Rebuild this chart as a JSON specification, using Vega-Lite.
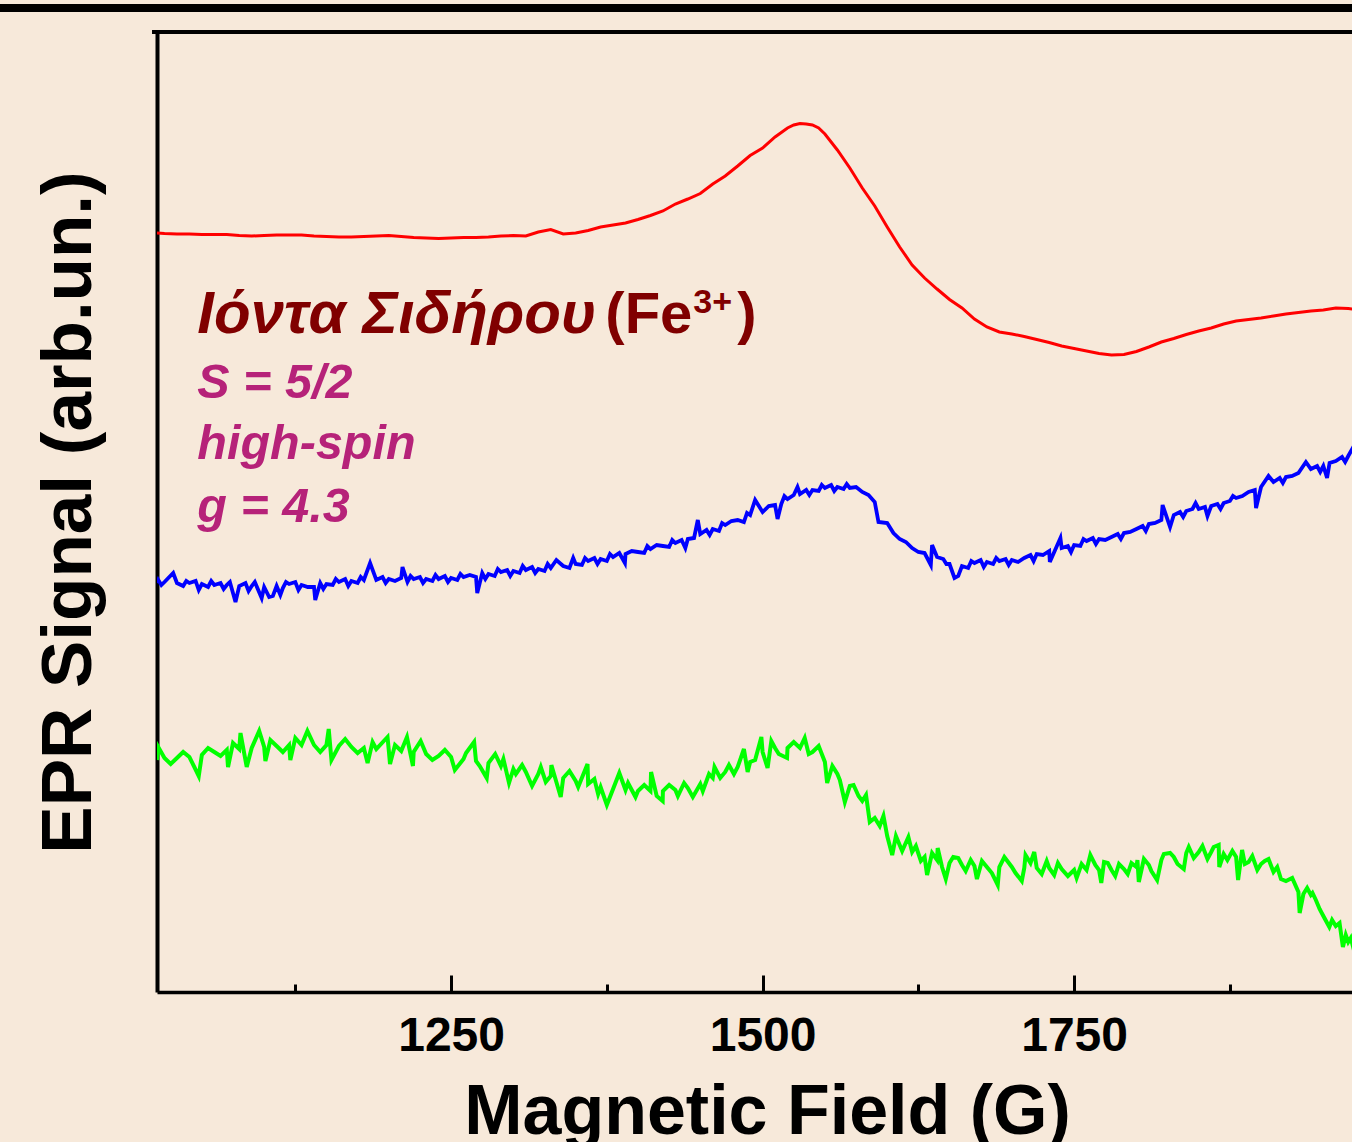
{
  "$schema": "https://vega.github.io/schema/vega-lite/v6.json",
  "width": 1195,
  "height": 960,
  "autosize": {"type": "none"},
  "padding": {"left": 157, "top": 32, "right": 0, "bottom": 150},
  "background": "#F7E9DA",
  "config": {"view": {"stroke": null}},
  "datasets": {
    "red": [
      {"B":1014,"v":759},{"B":1020,"v":758.5},{"B":1030,"v":758},{"B":1040,"v":758},{"B":1050,"v":757.5},{"B":1060,"v":757.5},{"B":1070,"v":757.5},{"B":1080,"v":756.5},{"B":1090,"v":756},{"B":1100,"v":756.5},{"B":1110,"v":757},{"B":1120,"v":757},{"B":1130,"v":757},{"B":1140,"v":756},{"B":1150,"v":755.5},{"B":1160,"v":755},{"B":1170,"v":755},{"B":1180,"v":755.5},{"B":1190,"v":756},{"B":1200,"v":756.5},{"B":1210,"v":755.5},{"B":1220,"v":754.5},{"B":1230,"v":754},{"B":1240,"v":753.5},{"B":1250,"v":754},{"B":1260,"v":754.5},{"B":1270,"v":754.5},{"B":1280,"v":755},{"B":1290,"v":756},{"B":1300,"v":756.5},{"B":1310,"v":756},{"B":1320,"v":760},{"B":1330,"v":762.5},{"B":1340,"v":758},{"B":1350,"v":759},{"B":1360,"v":761.5},{"B":1370,"v":765},{"B":1380,"v":767},{"B":1390,"v":769},{"B":1400,"v":772.5},{"B":1410,"v":776.5},{"B":1420,"v":781},{"B":1430,"v":788},{"B":1440,"v":793},{"B":1450,"v":798.5},{"B":1460,"v":808},{"B":1470,"v":816},{"B":1480,"v":826},{"B":1490,"v":836.5},{"B":1500,"v":844},{"B":1510,"v":855},{"B":1520,"v":864},{"B":1525,"v":867},{"B":1530,"v":868.5},{"B":1535,"v":868},{"B":1540,"v":867},{"B":1545,"v":864},{"B":1550,"v":858},{"B":1560,"v":842},{"B":1570,"v":824},{"B":1580,"v":804},{"B":1590,"v":786},{"B":1600,"v":765},{"B":1610,"v":745},{"B":1620,"v":727},{"B":1630,"v":714},{"B":1640,"v":703},{"B":1650,"v":692.5},{"B":1660,"v":684},{"B":1670,"v":673},{"B":1680,"v":665},{"B":1690,"v":660},{"B":1700,"v":658},{"B":1710,"v":655.5},{"B":1720,"v":652.5},{"B":1730,"v":649.5},{"B":1740,"v":646},{"B":1750,"v":643.5},{"B":1760,"v":641},{"B":1770,"v":638.5},{"B":1780,"v":637},{"B":1790,"v":637.5},{"B":1800,"v":640.5},{"B":1810,"v":645},{"B":1820,"v":650},{"B":1830,"v":653.5},{"B":1840,"v":657.5},{"B":1850,"v":661},{"B":1860,"v":664},{"B":1870,"v":668},{"B":1880,"v":671},{"B":1890,"v":672.5},{"B":1900,"v":674},{"B":1910,"v":676},{"B":1920,"v":678},{"B":1930,"v":679.5},{"B":1940,"v":681},{"B":1950,"v":682},{"B":1960,"v":684},{"B":1970,"v":683.5},{"B":1980,"v":682}
    ],
    "blue": [
      {"B":1014,"v":409},{"B":1020,"v":410},{"B":1030,"v":409},{"B":1040,"v":409},{"B":1050,"v":408},{"B":1060,"v":407},{"B":1070,"v":407},{"B":1080,"v":406},{"B":1090,"v":406},{"B":1100,"v":405},{"B":1110,"v":406},{"B":1120,"v":408},{"B":1130,"v":407},{"B":1140,"v":405},{"B":1150,"v":408},{"B":1160,"v":410},{"B":1170,"v":411},{"B":1180,"v":412},{"B":1190,"v":412},{"B":1200,"v":413},{"B":1210,"v":414},{"B":1220,"v":413},{"B":1230,"v":413},{"B":1240,"v":413},{"B":1250,"v":414},{"B":1260,"v":415},{"B":1270,"v":415},{"B":1280,"v":418},{"B":1290,"v":420},{"B":1300,"v":421},{"B":1310,"v":422},{"B":1320,"v":423},{"B":1330,"v":424},{"B":1340,"v":426},{"B":1350,"v":428},{"B":1360,"v":431},{"B":1370,"v":433},{"B":1380,"v":435},{"B":1390,"v":438},{"B":1400,"v":440},{"B":1410,"v":443},{"B":1420,"v":446},{"B":1430,"v":449},{"B":1440,"v":453},{"B":1450,"v":458},{"B":1460,"v":463},{"B":1470,"v":467},{"B":1480,"v":472},{"B":1490,"v":477},{"B":1500,"v":480},{"B":1510,"v":487},{"B":1520,"v":493},{"B":1530,"v":498},{"B":1540,"v":502},{"B":1550,"v":504},{"B":1560,"v":505},{"B":1570,"v":504},{"B":1580,"v":500},{"B":1590,"v":490},{"B":1600,"v":469},{"B":1610,"v":453},{"B":1620,"v":444},{"B":1630,"v":439},{"B":1640,"v":435},{"B":1650,"v":428},{"B":1660,"v":426},{"B":1670,"v":429},{"B":1680,"v":430},{"B":1690,"v":431},{"B":1700,"v":432},{"B":1710,"v":434},{"B":1720,"v":438},{"B":1730,"v":441},{"B":1740,"v":444},{"B":1750,"v":447},{"B":1760,"v":451},{"B":1770,"v":453},{"B":1780,"v":455},{"B":1790,"v":459},{"B":1800,"v":463},{"B":1810,"v":468},{"B":1820,"v":472},{"B":1830,"v":477},{"B":1840,"v":481},{"B":1850,"v":483},{"B":1860,"v":486},{"B":1870,"v":489},{"B":1880,"v":494},{"B":1890,"v":500},{"B":1900,"v":505},{"B":1910,"v":510},{"B":1920,"v":515},{"B":1930,"v":519},{"B":1940,"v":523},{"B":1950,"v":526},{"B":1960,"v":531},{"B":1970,"v":536},{"B":1975,"v":547},
      {"B":1027,"v":419},{"B":1077,"v":390},{"B":1098,"v":394},{"B":1104,"v":395},{"B":1107,"v":396},{"B":1113,"v":397},{"B":1141,"v":392},{"B":1185,"v":429},{"B":1211,"v":425},{"B":1271,"v":399},{"B":1438,"v":444},{"B":1448,"v":472},{"B":1494,"v":492},{"B":1512,"v":473},{"B":1528,"v":505},{"B":1593,"v":470},{"B":1635,"v":427},{"B":1636,"v":447},{"B":1654,"v":414},{"B":1657,"v":416},{"B":1730.5,"v":430},{"B":1739,"v":454},{"B":1821,"v":487},{"B":1827,"v":465},{"B":1857,"v":476},{"B":1896,"v":484},{"B":1906,"v":516},{"B":1936,"v":530},{"B":1953,"v":514},
      {"B":1015,"v":412},{"B":1017.5,"v":407},{"B":1035,"v":406},{"B":1037.5,"v":411},{"B":1045,"v":411},{"B":1047.5,"v":402},{"B":1055,"v":405},{"B":1057.5,"v":411},{"B":1065,"v":409},{"B":1067.5,"v":403},{"B":1072.5,"v":410},{"B":1085,"v":409},{"B":1087.5,"v":401},{"B":1092.5,"v":410},{"B":1115,"v":404},{"B":1117.5,"v":410},{"B":1125,"v":410},{"B":1127.5,"v":402},{"B":1135,"v":405},{"B":1145,"v":409},{"B":1147.5,"v":403},{"B":1155,"v":407},{"B":1157.5,"v":413},{"B":1165,"v":413},{"B":1167.5,"v":406},{"B":1175,"v":409},{"B":1177.5,"v":415},{"B":1195,"v":415},{"B":1197.5,"v":409},{"B":1205,"v":411},{"B":1215,"v":410},{"B":1217.5,"v":416},{"B":1225,"v":415},{"B":1227.5,"v":409},{"B":1235,"v":411},{"B":1237.5,"v":417},{"B":1245,"v":416},{"B":1247.5,"v":410},{"B":1255,"v":412},{"B":1257.5,"v":418},{"B":1265,"v":417},{"B":1275,"v":419},{"B":1277.5,"v":413},{"B":1285,"v":416},{"B":1287.5,"v":423},{"B":1295,"v":422},{"B":1297.5,"v":416},{"B":1305,"v":419},{"B":1307.5,"v":426},{"B":1315,"v":425},{"B":1317.5,"v":419},{"B":1325,"v":421},{"B":1327.5,"v":428},{"B":1334.5,"v":432},{"B":1345,"v":424},{"B":1348,"v":434},{"B":1355,"v":427},{"B":1357.5,"v":434},{"B":1365,"v":434},{"B":1367.5,"v":428},{"B":1375,"v":431},{"B":1377.5,"v":438},{"B":1385,"v":439},{"B":1389.5,"v":429},{"B":1395,"v":441},{"B":1405,"v":439},{"B":1407.5,"v":446},{"B":1415,"v":447},{"B":1425,"v":445},{"B":1427.5,"v":452},{"B":1435,"v":452},{"B":1445,"v":454},{"B":1455,"v":462},{"B":1457.5,"v":457},{"B":1465,"v":461},{"B":1467.5,"v":469},{"B":1475,"v":471},{"B":1485,"v":470},{"B":1487.5,"v":479},{"B":1505,"v":486},{"B":1515,"v":488},{"B":1517.5,"v":496},{"B":1525,"v":497},{"B":1535,"v":502},{"B":1537.5,"v":497},{"B":1545,"v":501},{"B":1547.5,"v":507},{"B":1555,"v":507},{"B":1557.5,"v":501},{"B":1565,"v":503},{"B":1567.5,"v":508},{"B":1575,"v":505},{"B":1585,"v":497},{"B":1605,"v":459},{"B":1615,"v":450},{"B":1625,"v":440},{"B":1645,"v":433},{"B":1647.5,"v":428},{"B":1665,"v":424},{"B":1667.5,"v":431},{"B":1675,"v":432},{"B":1677.5,"v":425},{"B":1685,"v":428},{"B":1687.5,"v":434},{"B":1695,"v":433},{"B":1697.5,"v":427},{"B":1705,"v":430},{"B":1715,"v":437},{"B":1717.5,"v":431},{"B":1725,"v":437},{"B":1745,"v":446},{"B":1747.5,"v":440},{"B":1755,"v":446},{"B":1757.5,"v":453},{"B":1765,"v":454},{"B":1767.5,"v":448},{"B":1775,"v":452},{"B":1785,"v":458},{"B":1787.5,"v":453},{"B":1795,"v":460},{"B":1805,"v":466},{"B":1807.5,"v":461},{"B":1815,"v":469},{"B":1835,"v":480},{"B":1837.5,"v":475},{"B":1845,"v":483},{"B":1847.5,"v":489},{"B":1855,"v":485},{"B":1865,"v":488},{"B":1867.5,"v":483},{"B":1875,"v":491},{"B":1877.5,"v":496},{"B":1885,"v":496},{"B":1895,"v":502},{"B":1915,"v":514},{"B":1917.5,"v":509},{"B":1925,"v":516},{"B":1945,"v":526},{"B":1947.5,"v":520},{"B":1955,"v":529},{"B":1965,"v":535},{"B":1967.5,"v":530}
    ],
    "green": [
      {"B":1014,"v":232},{"B":1020,"v":234},{"B":1030,"v":234},{"B":1040,"v":235},{"B":1050,"v":237},{"B":1060,"v":240},{"B":1070,"v":242},{"B":1080,"v":243},{"B":1090,"v":244},{"B":1100,"v":245},{"B":1110,"v":246},{"B":1120,"v":247},{"B":1130,"v":247},{"B":1140,"v":247},{"B":1150,"v":247},{"B":1160,"v":246},{"B":1170,"v":245},{"B":1180,"v":244},{"B":1190,"v":243},{"B":1200,"v":242},{"B":1210,"v":241},{"B":1220,"v":240},{"B":1230,"v":238},{"B":1240,"v":236},{"B":1250,"v":235},{"B":1260,"v":233},{"B":1270,"v":231},{"B":1280,"v":229},{"B":1290,"v":226},{"B":1300,"v":223},{"B":1310,"v":220},{"B":1320,"v":218},{"B":1330,"v":216},{"B":1340,"v":214},{"B":1350,"v":211},{"B":1360,"v":208},{"B":1370,"v":205},{"B":1380,"v":203},{"B":1390,"v":202},{"B":1400,"v":201},{"B":1410,"v":201},{"B":1420,"v":201},{"B":1430,"v":202},{"B":1440,"v":204},{"B":1450,"v":208},{"B":1460,"v":214},{"B":1470,"v":220},{"B":1480,"v":225},{"B":1490,"v":230},{"B":1500,"v":240},{"B":1510,"v":244},{"B":1520,"v":244},{"B":1530,"v":244},{"B":1540,"v":240},{"B":1550,"v":230},{"B":1560,"v":218},{"B":1570,"v":206},{"B":1580,"v":191},{"B":1590,"v":174},{"B":1600,"v":156},{"B":1610,"v":147},{"B":1620,"v":140},{"B":1630,"v":135},{"B":1640,"v":132},{"B":1650,"v":129},{"B":1660,"v":127},{"B":1670,"v":126},{"B":1680,"v":125},{"B":1690,"v":125},{"B":1700,"v":125},{"B":1710,"v":124},{"B":1720,"v":124},{"B":1730,"v":124},{"B":1740,"v":123},{"B":1750,"v":122},{"B":1760,"v":122},{"B":1770,"v":122},{"B":1780,"v":122},{"B":1790,"v":123},{"B":1800,"v":125},{"B":1810,"v":127},{"B":1820,"v":132},{"B":1830,"v":135},{"B":1840,"v":139},{"B":1850,"v":140},{"B":1860,"v":140},{"B":1870,"v":138},{"B":1880,"v":135},{"B":1890,"v":130},{"B":1900,"v":128},{"B":1910,"v":120},{"B":1920,"v":111},{"B":1930,"v":100},{"B":1940,"v":97},{"B":1950,"v":76},{"B":1960,"v":66},{"B":1970,"v":50},{"B":1975,"v":40},
      {"B":1047.5,"v":216},{"B":1071,"v":225},{"B":1081,"v":259},{"B":1086,"v":225},{"B":1096,"v":261},{"B":1101,"v":231},{"B":1121,"v":232},{"B":1134.7,"v":261},{"B":1151.8,"v":263},{"B":1154,"v":232},{"B":1183,"v":229},{"B":1199,"v":255},{"B":1201,"v":228},{"B":1214.6,"v":255},{"B":1219.4,"v":226},{"B":1225.6,"v":251},{"B":1253,"v":222},{"B":1268.5,"v":250},{"B":1278.6,"v":214},{"B":1285.4,"v":238},{"B":1296.5,"v":209},{"B":1307,"v":227},{"B":1315,"v":206},{"B":1330.5,"v":227},{"B":1338,"v":195},{"B":1359.5,"v":228},{"B":1375,"v":187},{"B":1385,"v":219},{"B":1410.5,"v":220},{"B":1419.8,"v":191},{"B":1444,"v":195},{"B":1461.4,"v":225},{"B":1485,"v":243},{"B":1488,"v":220},{"B":1499,"v":255},{"B":1504,"v":224},{"B":1519.6,"v":234},{"B":1533.8,"v":254},{"B":1551.8,"v":209},{"B":1566,"v":190},{"B":1573,"v":207},{"B":1586,"v":170},{"B":1604,"v":137},{"B":1617,"v":155},{"B":1632,"v":117},{"B":1640.5,"v":144},{"B":1647,"v":113},{"B":1653,"v":135},{"B":1672,"v":113},{"B":1688.7,"v":107},{"B":1694,"v":135},{"B":1708,"v":111},{"B":1711,"v":137},{"B":1718,"v":140},{"B":1752,"v":114},{"B":1763,"v":137},{"B":1771.8,"v":109},{"B":1777,"v":129},{"B":1800.8,"v":132},{"B":1801.9,"v":110},{"B":1816.6,"v":112},{"B":1827,"v":139},{"B":1838,"v":123},{"B":1866,"v":147},{"B":1866.5,"v":125},{"B":1881.6,"v":112},{"B":1884.8,"v":142},{"B":1906,"v":133},{"B":1931,"v":79},{"B":1941.3,"v":99},{"B":1954.8,"v":65},{"B":1965.7,"v":45},{"B":1972,"v":54},
      {"B":1015,"v":245},{"B":1025,"v":228},{"B":1035,"v":240},{"B":1055,"v":244},{"B":1065,"v":236},{"B":1075,"v":249},{"B":1105,"v":252},{"B":1115,"v":240},{"B":1125,"v":254},{"B":1145,"v":240},{"B":1165,"v":253},{"B":1175,"v":239},{"B":1187,"v":250},{"B":1205,"v":247},{"B":1235,"v":232},{"B":1245,"v":242},{"B":1262,"v":239},{"B":1273,"v":226},{"B":1292,"v":233},{"B":1302,"v":218},{"B":1322,"v":225},{"B":1326,"v":210},{"B":1345,"v":221},{"B":1352,"v":205},{"B":1365,"v":213},{"B":1368,"v":198},{"B":1392,"v":209},{"B":1398,"v":195},{"B":1405,"v":207},{"B":1415,"v":196},{"B":1425,"v":207},{"B":1432,"v":196},{"B":1437,"v":209},{"B":1452,"v":201},{"B":1457,"v":218},{"B":1466,"v":214},{"B":1473,"v":227},{"B":1477,"v":218},{"B":1494,"v":232},{"B":1507,"v":251},{"B":1513,"v":238},{"B":1525,"v":250},{"B":1537,"v":238},{"B":1545,"v":246},{"B":1556,"v":226},{"B":1562,"v":212},{"B":1577,"v":196},{"B":1583,"v":197},{"B":1594,"v":166},{"B":1597,"v":176},{"B":1607,"v":156},{"B":1612,"v":141},{"B":1623,"v":146},{"B":1627,"v":131},{"B":1636,"v":139},{"B":1644,"v":125},{"B":1657,"v":134},{"B":1663,"v":121},{"B":1667,"v":132},{"B":1676,"v":131},{"B":1684,"v":119},{"B":1697,"v":130},{"B":1703,"v":119},{"B":1715,"v":129},{"B":1724,"v":118},{"B":1728,"v":131},{"B":1734,"v":117},{"B":1737,"v":129},{"B":1745,"v":116},{"B":1756,"v":128},{"B":1767,"v":127},{"B":1774,"v":130},{"B":1783,"v":116},{"B":1786,"v":128},{"B":1793,"v":118},{"B":1796,"v":129},{"B":1806,"v":133},{"B":1812,"v":121},{"B":1822,"v":138},{"B":1833,"v":128},{"B":1842,"v":145},{"B":1846,"v":134},{"B":1853,"v":146},{"B":1857,"v":133},{"B":1862,"v":145},{"B":1873,"v":132},{"B":1877,"v":141},{"B":1887,"v":128},{"B":1893,"v":136},{"B":1897,"v":122},{"B":1903,"v":131},{"B":1913,"v":125},{"B":1916,"v":113},{"B":1925,"v":114},{"B":1934,"v":98},{"B":1937,"v":104},{"B":1944,"v":92},{"B":1947,"v":83},{"B":1957,"v":72},{"B":1963,"v":69},{"B":1968,"v":57}
    ]
  },
  "encoding": {
    "x": {
      "field": "B",
      "type": "quantitative",
      "scale": {"domain": [1014, 1973], "nice": false, "zero": false},
      "axis": {
        "values": [1125, 1250, 1375, 1500, 1625, 1750, 1875],
        "format": "d",
        "labelExpr": "datum.value % 250 == 0 ? datum.label : ''",
        "grid": false,
        "domainColor": "black",
        "domainWidth": 3.5,
        "tickColor": "black",
        "tickWidth": 3,
        "tickSize": {"condition": {"test": "datum.value % 250 == 0", "value": -17}, "value": -8},
        "labelFont": "Liberation Sans",
        "labelFontSize": 48,
        "labelFontWeight": "bold",
        "labelColor": "black",
        "labelPadding": 37,
        "labelFlush": false,
        "labelOverlap": false,
        "title": "Magnetic Field (G)",
        "titleFont": "Liberation Sans",
        "titleFontSize": 70,
        "titleFontWeight": "bold",
        "titleColor": "black",
        "titleAlign": "center",
        "titleBaseline": "alphabetic",
        "titleX": 610,
        "titleY": 141
      }
    },
    "y": {
      "field": "v",
      "type": "quantitative",
      "scale": {"domain": [0, 960], "nice": false, "zero": false},
      "axis": {
        "grid": false,
        "ticks": false,
        "labels": false,
        "domain": true,
        "domainColor": "black",
        "domainWidth": 4,
        "title": "EPR Signal (arb.un.)",
        "titleFont": "Liberation Sans",
        "titleFontSize": 71,
        "titleFontWeight": "bold",
        "titleColor": "black",
        "titleAngle": -90,
        "titleAlign": "center",
        "titleBaseline": "alphabetic",
        "titleX": -67,
        "titleY": 480
      }
    }
  },
  "layer": [
    {
      "data": {"name": "red"},
      "mark": {"type": "line", "color": "#FF0000", "strokeWidth": 3, "clip": true}
    },
    {
      "data": {"name": "blue"},
      "mark": {"type": "line", "color": "#0000FF", "strokeWidth": 3.8, "clip": true}
    },
    {
      "data": {"name": "green"},
      "mark": {"type": "line", "color": "#00FF00", "strokeWidth": 4, "clip": true}
    },
    {
      "data": {"values": [{"B": 1010, "B2": 1990, "v": 960}]},
      "mark": {"type": "rule", "color": "black", "strokeWidth": 4},
      "encoding": {"x2": {"field": "B2"}}
    },
    {
      "data": {"values": [{"B": 880, "B2": 1990, "v": 984}]},
      "mark": {"type": "rule", "color": "black", "strokeWidth": 8},
      "encoding": {"x2": {"field": "B2"}}
    },
    {
      "data": {"values": [{"B": 1046.4, "v": 659, "t": "Ιόντα Σιδήρου"}]},
      "mark": {"type": "text", "align": "left", "baseline": "alphabetic", "font": "Liberation Sans", "fontSize": 60, "fontWeight": "bold", "fontStyle": "italic", "color": "#800000"},
      "encoding": {"text": {"field": "t"}}
    },
    {
      "data": {"values": [{"B": 1373.8, "v": 659, "t": "(Fe"}]},
      "mark": {"type": "text", "align": "left", "baseline": "alphabetic", "font": "Liberation Sans", "fontSize": 58, "fontWeight": "bold", "color": "#800000"},
      "encoding": {"text": {"field": "t"}}
    },
    {
      "data": {"values": [{"B": 1444.4, "v": 679, "t": "3+"}]},
      "mark": {"type": "text", "align": "left", "baseline": "alphabetic", "font": "Liberation Sans", "fontSize": 34, "fontWeight": "bold", "color": "#800000"},
      "encoding": {"text": {"field": "t"}}
    },
    {
      "data": {"values": [{"B": 1479.7, "v": 659, "t": ")"}]},
      "mark": {"type": "text", "align": "left", "baseline": "alphabetic", "font": "Liberation Sans", "fontSize": 58, "fontWeight": "bold", "color": "#800000"},
      "encoding": {"text": {"field": "t"}}
    },
    {
      "data": {"values": [{"B": 1046.4, "v": 594, "t": "S = 5/2"}, {"B": 1046.4, "v": 533, "t": "high-spin"}, {"B": 1046.4, "v": 470, "t": "g = 4.3"}]},
      "mark": {"type": "text", "align": "left", "baseline": "alphabetic", "font": "Liberation Sans", "fontSize": 48.5, "fontWeight": "bold", "fontStyle": "italic", "color": "#B62279"},
      "encoding": {"text": {"field": "t"}}
    }
  ]
}
